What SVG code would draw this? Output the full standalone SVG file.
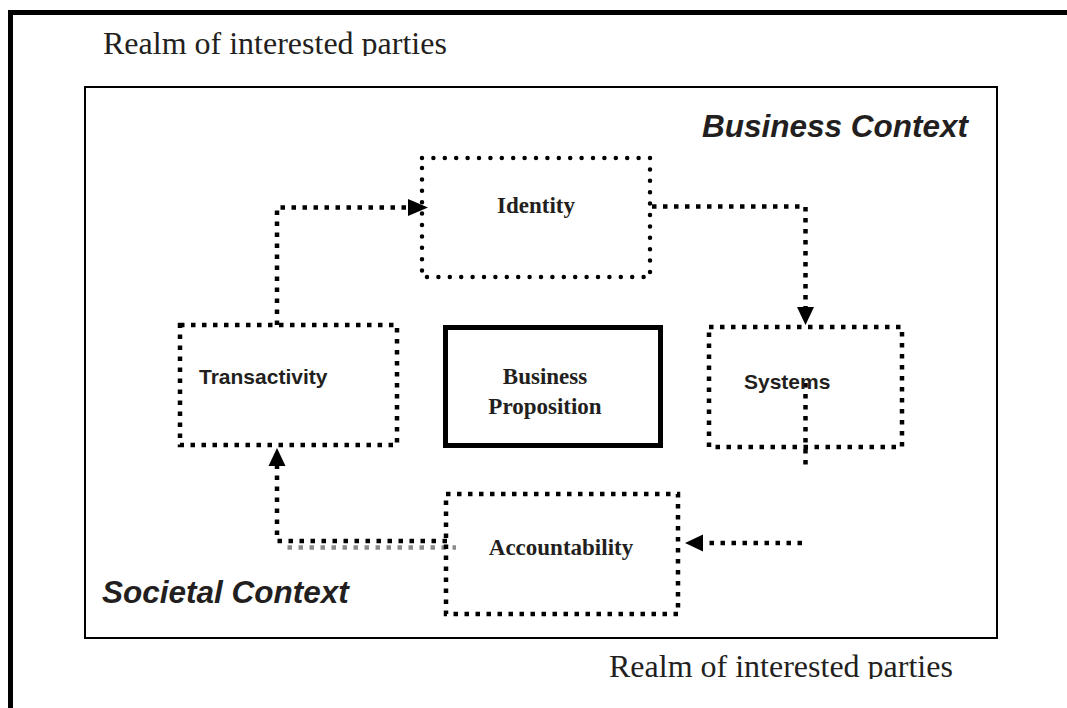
<svg xmlns="http://www.w3.org/2000/svg" width="1067" height="708" viewBox="0 0 1067 708">
<style>
  .serif { font-family: "Liberation Serif", "Times New Roman", serif; fill: #231f20; }
  .node-b { font-family: "Liberation Serif", "Times New Roman", serif; font-weight: bold; font-size: 23px; fill: #231f20; }
  .node-s { font-family: "Liberation Sans", Arial, sans-serif; font-weight: bold; font-size: 21px; fill: #231f20; }
  .ctx { font-family: "Liberation Sans", Arial, sans-serif; font-weight: bold; font-style: italic; font-size: 31.5px; fill: #231f20; }
  .sq { fill: none; stroke: #000; stroke-width: 4.5; stroke-dasharray: 4.5 6.5; }
  .dot { fill: none; stroke: #000; stroke-width: 4.5; stroke-dasharray: 0 11.4; stroke-linecap: round; }
  .sqgray { fill: none; stroke: #8a8a8a; stroke-width: 4.5; stroke-dasharray: 4.5 6.5; }
  .head { fill: #000; }
</style>
<defs>
  <clipPath id="clipTop"><rect x="0" y="0" width="1067" height="56"/></clipPath>
  <clipPath id="clipBot"><rect x="0" y="600" width="1067" height="79"/></clipPath>
</defs>
<rect width="1067" height="708" fill="#fff"/>
<g id="outer-realm">
  <path d="M10.5 708 V12.5 H1067" fill="none" stroke="#000" stroke-width="5"/>
  <text class="serif" x="103" y="54" font-size="32" clip-path="url(#clipTop)">Realm of interested parties</text>
  <text class="serif" x="609" y="677" font-size="32" clip-path="url(#clipBot)">Realm of interested parties</text>
</g>
<g id="context">
  <rect x="85" y="87" width="912" height="551" fill="none" stroke="#000" stroke-width="2"/>
  <text class="ctx" x="968" y="137" text-anchor="end">Business Context</text>
  <text class="ctx" x="102" y="603">Societal Context</text>
</g>
<g id="connectors">
  <path class="sq" d="M277 325 V207.5 H408"/>
  <polygon class="head" points="408,199 428,207.5 408,216"/>
  <path class="sq" d="M652 206.5 H805.5 V307"/>
  <polygon class="head" points="797,307 805.5,325 814,307"/>
  <path class="sq" d="M805.5 383 V470"/>
  <path class="sq" d="M802 543 H703"/>
  <polygon class="head" points="703,534.5 685,543 703,551.5"/>
  <path class="sqgray" d="M282 547.5 H456" stroke-dashoffset="5.5"/>
  <path class="sq" d="M447 541 H277 V466"/>
  <polygon class="head" points="268.5,466 277,448 285.5,466"/>
</g>
<g id="identity">
  <rect class="dot" x="422" y="158" width="228" height="119"/>
  <text class="node-b" x="536" y="213" text-anchor="middle">Identity</text>
</g>
<g id="transactivity">
  <rect class="sq" x="180" y="325" width="217" height="120"/>
  <text class="node-s" x="199" y="384">Transactivity</text>
</g>
<g id="business-proposition">
  <rect x="445.5" y="327.5" width="215" height="118" fill="#fff" stroke="#000" stroke-width="5"/>
  <text class="node-b" x="545" y="384" text-anchor="middle" font-size="27">Business</text>
  <text class="node-b" x="545" y="414" text-anchor="middle" font-size="27">Proposition</text>
</g>
<g id="systems">
  <rect class="sq" x="709" y="327" width="193" height="120"/>
  <text class="node-s" x="744" y="389">Systems</text>
</g>
<g id="accountability">
  <rect class="sq" x="446" y="494" width="232" height="120"/>
  <text class="node-b" x="561" y="555" text-anchor="middle">Accountability</text>
</g>
</svg>
